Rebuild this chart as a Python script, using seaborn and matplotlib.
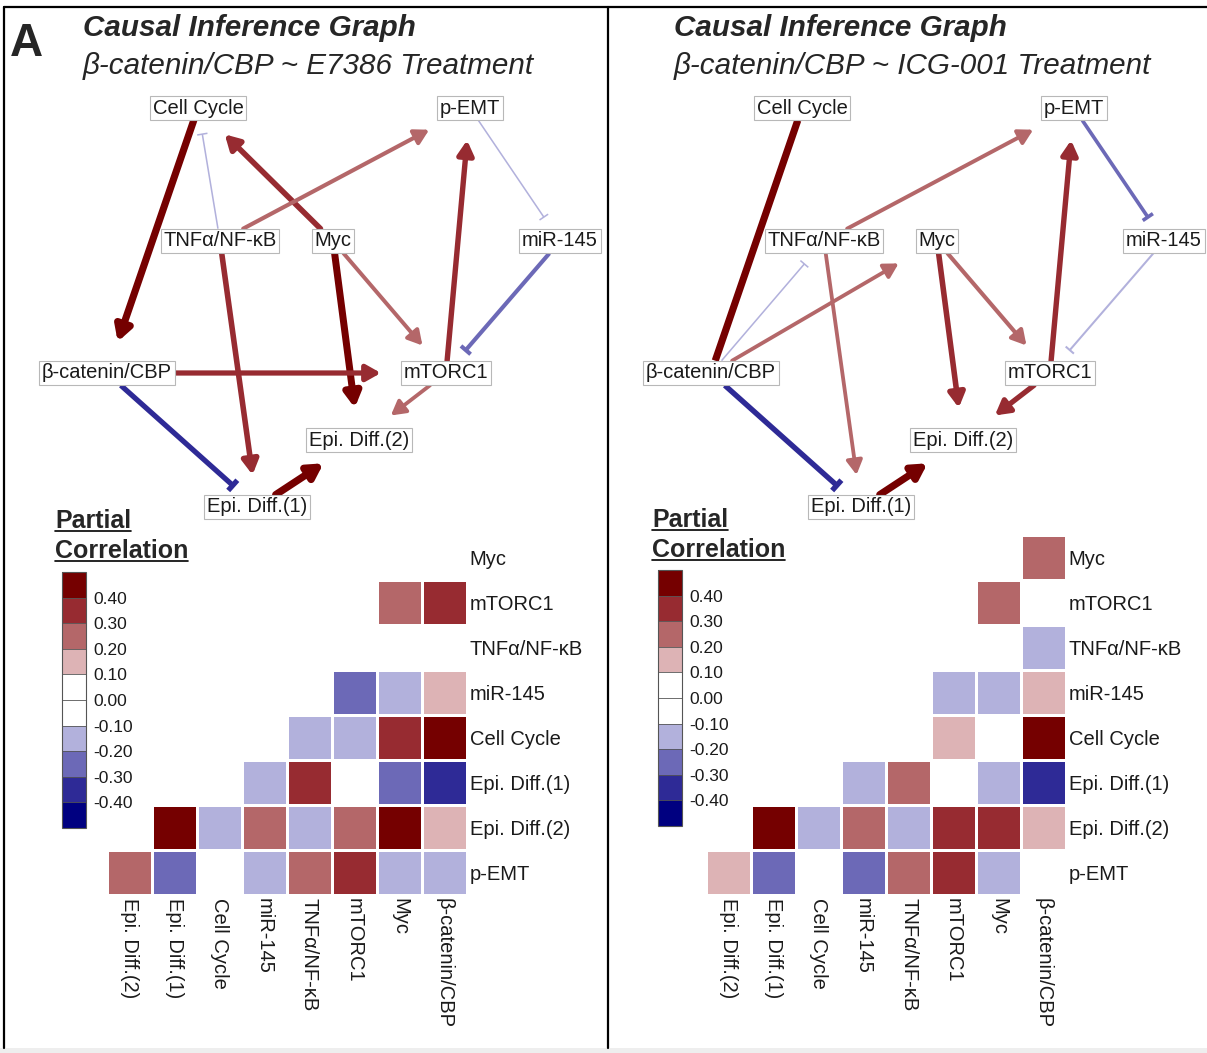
import numpy as np
import pandas as pd
import seaborn as sns
import matplotlib
matplotlib.use("Agg")
import matplotlib.pyplot as plt
from matplotlib.colors import ListedColormap, BoundaryNorm
from matplotlib.patches import FancyArrowPatch, ArrowStyle, Rectangle
from matplotlib.cm import ScalarMappable

sns.set_theme(style="white")
plt.rcParams["font.family"] = ["Liberation Sans", "DejaVu Sans"]
plt.rcParams["axes.unicode_minus"] = False

# ---- data -------------------------------------------------------------
row_labels = ["Myc", "mTORC1", "TNFα/NF-κB", "miR-145", "Cell Cycle",
              "Epi. Diff.(1)", "Epi. Diff.(2)", "p-EMT"]
col_labels = ["Epi. Diff.(2)", "Epi. Diff.(1)", "Cell Cycle", "miR-145",
              "TNFα/NF-κB", "mTORC1", "Myc", "β-catenin/CBP"]

nan = np.nan
# partial correlations, E7386 treatment
pcor_e7386 = [
    [nan, nan, nan, nan, nan, nan, nan, 0.02],
    [nan, nan, nan, nan, nan, nan, 0.26, 0.34],
    [nan, nan, nan, nan, nan, 0.03, 0.05, -0.04],
    [nan, nan, nan, nan, 0.02, -0.27, -0.13, 0.16],
    [nan, nan, nan, 0.04, -0.11, -0.14, 0.36, 0.46],
    [nan, nan, 0.05, -0.16, 0.36, 0.01, -0.24, -0.34],
    [nan, 0.47, -0.13, 0.24, -0.15, 0.25, 0.45, 0.14],
    [0.23, -0.26, 0.06, -0.11, 0.27, 0.35, -0.13, -0.16],
]
# partial correlations, ICG-001 treatment
pcor_icg001 = [
    [nan, nan, nan, nan, nan, nan, nan, 0.25],
    [nan, nan, nan, nan, nan, nan, 0.27, 0.04],
    [nan, nan, nan, nan, nan, 0.03, 0.06, -0.11],
    [nan, nan, nan, nan, 0.05, -0.14, -0.12, 0.13],
    [nan, nan, nan, 0.02, -0.05, 0.15, 0.07, 0.46],
    [nan, nan, -0.03, -0.12, 0.25, 0.04, -0.16, -0.35],
    [nan, 0.46, -0.14, 0.23, -0.13, 0.34, 0.36, 0.16],
    [0.14, -0.26, -0.02, -0.24, 0.26, 0.35, -0.15, 0.05],
]

# causal edges: (source, target, kind)
edges_e7386 = [
    ("Cell Cycle", "β-catenin/CBP", "arrow"),
    ("TNFα/NF-κB", "Cell Cycle", "bar"),
    ("Myc", "Cell Cycle", "arrow"),
    ("TNFα/NF-κB", "p-EMT", "arrow"),
    ("p-EMT", "miR-145", "bar"),
    ("mTORC1", "p-EMT", "arrow"),
    ("miR-145", "mTORC1", "bar"),
    ("Myc", "mTORC1", "arrow"),
    ("Myc", "Epi. Diff.(2)", "arrow"),
    ("TNFα/NF-κB", "Epi. Diff.(1)", "arrow"),
    ("β-catenin/CBP", "mTORC1", "arrow"),
    ("mTORC1", "Epi. Diff.(2)", "arrow"),
    ("β-catenin/CBP", "Epi. Diff.(1)", "bar"),
    ("Epi. Diff.(1)", "Epi. Diff.(2)", "arrow"),
]
edges_icg001 = [
    ("Cell Cycle", "β-catenin/CBP", "line"),
    ("β-catenin/CBP", "TNFα/NF-κB", "bar"),
    ("β-catenin/CBP", "Myc", "arrow"),
    ("TNFα/NF-κB", "p-EMT", "arrow"),
    ("TNFα/NF-κB", "Epi. Diff.(1)", "arrow"),
    ("Myc", "Epi. Diff.(2)", "arrow"),
    ("Myc", "mTORC1", "arrow"),
    ("p-EMT", "miR-145", "bar"),
    ("miR-145", "mTORC1", "bar"),
    ("mTORC1", "p-EMT", "arrow"),
    ("mTORC1", "Epi. Diff.(2)", "arrow"),
    ("β-catenin/CBP", "Epi. Diff.(1)", "bar"),
    ("Epi. Diff.(1)", "Epi. Diff.(2)", "arrow"),
]

# graph layout inside a panel (pixels)
layout = {
    "Cell Cycle": (193, 108), "p-EMT": (465, 108),
    "TNFα/NF-κB": (215, 241), "Myc": (328, 241), "miR-145": (555, 241),
    "β-catenin/CBP": (102, 373), "mTORC1": (441, 373),
    "Epi. Diff.(2)": (354, 440), "Epi. Diff.(1)": (252, 507),
}

bounds = np.round(np.arange(-0.5, 0.51, 0.1), 2)
bin_colors = ["#000080", "#2e2a96", "#6c69b7", "#b2b1dc", "#ffffff",
              "#ffffff", "#ddb3b5", "#b46769", "#972b31", "#750000"]
cmap = ListedColormap(bin_colors)
norm = BoundaryNorm(bounds, cmap.N)

panels = [
    dict(x0=4, title_x=83, title="β-catenin/CBP ~ E7386 Treatment",
         pcor=pcor_e7386, edges=edges_e7386, heat=(107, 467), cbar=(62, 572),
         leg=(55, 528)),
    dict(x0=608, title_x=674, title="β-catenin/CBP ~ ICG-001 Treatment",
         pcor=pcor_icg001, edges=edges_icg001, heat=(706, 1066), cbar=(658, 570),
         leg=(652, 527)),
]

# ---- figure -----------------------------------------------------------
W, H = 1207, 1053
fig = plt.figure(figsize=(W / 100, H / 100), dpi=100)


def px_axes(x0, y0, x1, y1):
    return fig.add_axes([x0 / W, 1 - y1 / H, (x1 - x0) / W, (y1 - y0) / H])


def pcor_of(df, a, b):
    for r, c in ((a, b), (b, a)):
        if r in df.index and c in df.columns and not pd.isna(df.loc[r, c]):
            return df.loc[r, c]
    return 0.0


tick_vals = bounds[1:-1]
tick_text = [f"{abs(t):.2f}" if abs(t) < 1e-9 else f"{t:.2f}" for t in tick_vals]

frames = []
for p in panels:
    df = pd.DataFrame(p["pcor"], index=row_labels, columns=col_labels)
    frames.append(df)
    hx0, hx1 = p["heat"]
    axh = px_axes(hx0, 535, hx1, 895)
    sns.heatmap(df, ax=axh, cmap=cmap, norm=norm, cbar=False, mask=df.isna(),
                linewidths=0.8, linecolor="white")
    axh.yaxis.tick_right()
    axh.set_yticklabels(row_labels, rotation=0, fontsize=14.5, color="#1a1a1a")
    axh.set_xticklabels(col_labels, rotation=270, fontsize=14.5, color="#1a1a1a",
                        ha="center", va="top")
    axh.tick_params(length=0, pad=2)
    axh.set_xlabel("")
    axh.set_ylabel("")

    cx, cy = p["cbar"]
    cax = px_axes(cx, cy, cx + 24, cy + 256)
    cb = fig.colorbar(ScalarMappable(norm=norm, cmap=cmap), cax=cax,
                      ticks=tick_vals, drawedges=True)
    cb.ax.minorticks_off()
    cb.ax.set_yticklabels(tick_text, fontsize=12.5, color="#1a1a1a")
    cb.ax.tick_params(which="both", length=0, pad=5)
    cb.outline.set_edgecolor("#555555")
    cb.outline.set_linewidth(0.8)
    cb.dividers.set_color("#555555")
    cb.dividers.set_linewidth(0.6)

ax = fig.add_axes([0, 0, 1, 1])
ax.set_xlim(0, W)
ax.set_ylim(H, 0)
ax.axis("off")
ax.patch.set_alpha(0)

# panel frames
ax.plot([4, W], [7, 7], color="black", lw=1.6)
ax.plot([4, 4], [7, 1048], color="black", lw=1.6)
ax.plot([608, 608], [7, 1048], color="black", lw=1.6)
ax.add_patch(Rectangle((0, 1048), W, 5, color="#eeeeee", lw=0))

ax.text(10, 56, "A", fontsize=33, fontweight="bold", va="baseline")

node_texts = []
leg_texts = []
for p in panels:
    ox = p["x0"]
    ax.text(p["title_x"], 36, "Causal Inference Graph", fontsize=21.3,
            fontweight="bold", fontstyle="italic", va="baseline")
    ax.text(p["title_x"], 74, p["title"], fontsize=21.3, fontstyle="italic",
            va="baseline")
    lx, ly = p["leg"]
    leg_texts.append(ax.text(lx, ly, "Partial", fontsize=18, fontweight="bold",
                             va="baseline"))
    leg_texts.append(ax.text(lx, ly + 30, "Correlation", fontsize=18,
                             fontweight="bold", va="baseline"))
    texts = {}
    for name, (x, y) in layout.items():
        texts[name] = ax.text(ox + x + 1, y, name, ha="center", va="center",
                              fontsize=14.5, color="#1a1a1a", zorder=5,
                              bbox=dict(boxstyle="square,pad=0.14", fc="white",
                                        ec="#b8b8b8", lw=0.8))
    node_texts.append(texts)

fig.canvas.draw()
renderer = fig.canvas.get_renderer()
inv = ax.transData.inverted()

# underline legend titles
for t in leg_texts:
    bb = t.get_window_extent(renderer)
    (xa, ya), (xb, yb) = inv.transform([[bb.x0, bb.y0], [bb.x1, bb.y1]])
    base = t.get_position()[1]
    ax.plot([xa, xb], [base + 3, base + 3], color="black", lw=1.2)


def half_size(t):
    bb = t.get_bbox_patch().get_window_extent(renderer)
    (xa, ya), (xb, yb) = inv.transform([[bb.x0, bb.y0], [bb.x1, bb.y1]])
    return abs(xb - xa) / 2, abs(yb - ya) / 2


def exit_dist(hw, hh, d):
    tx = hw / abs(d[0]) if abs(d[0]) > 1e-9 else np.inf
    ty = hh / abs(d[1]) if abs(d[1]) > 1e-9 else np.inf
    return min(tx, ty)


for p, texts, df in zip(panels, node_texts, frames):
    ox = p["x0"]
    for src, dst, kind in p["edges"]:
        r = pcor_of(df, src, dst)
        col = cmap(norm(r))
        w_px = max(16 * abs(r) - 0.2, 1.3)
        lw = w_px * 0.72
        s = np.array([ox + layout[src][0] + 1, layout[src][1]], float)
        e = np.array([ox + layout[dst][0] + 1, layout[dst][1]], float)
        d = (e - s) / np.linalg.norm(e - s)
        start = s + d * exit_dist(*half_size(texts[src]), d)
        t_end = exit_dist(*half_size(texts[dst]), d)
        if kind == "arrow":
            end = e - d * (t_end + 20)
            style = ArrowStyle("-|>", head_length=8.5, head_width=4.8)
            ax.add_patch(FancyArrowPatch(start, end, arrowstyle=style,
                                         mutation_scale=1, lw=lw, color=col,
                                         shrinkA=0, shrinkB=0,
                                         joinstyle="round", zorder=2))
        elif kind == "bar":
            end = e - d * (t_end + 14)
            n = np.array([-d[1], d[0]])
            half = (9 + 0.9 * w_px) / 2
            ax.plot([start[0], end[0]], [start[1], end[1]], color=col, lw=lw,
                    solid_capstyle="butt", zorder=2)
            ax.plot([end[0] - n[0] * half, end[0] + n[0] * half],
                    [end[1] - n[1] * half, end[1] + n[1] * half],
                    color=col, lw=lw, solid_capstyle="butt", zorder=2)
        else:
            end = e - d * t_end
            ax.plot([start[0], end[0]], [start[1], end[1]], color=col, lw=lw,
                    solid_capstyle="butt", zorder=2)

fig.savefig("out.png", dpi=100)
